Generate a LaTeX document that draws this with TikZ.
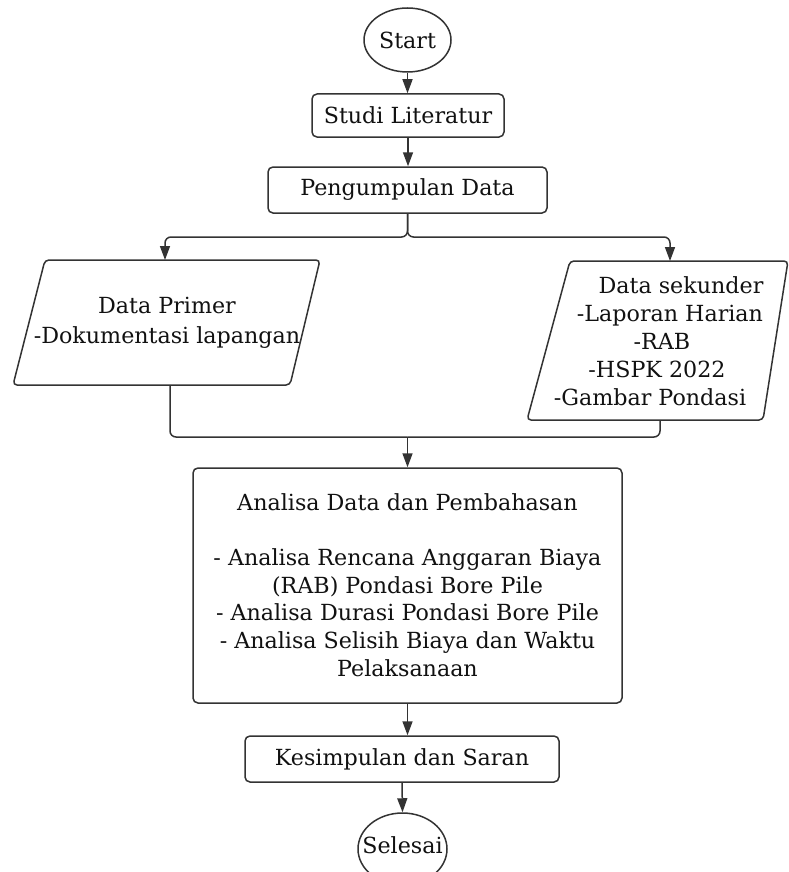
\documentclass[tikz,border=0pt]{standalone}
\usepackage{fontspec}
\setmainfont{DejaVu Serif}
\usetikzlibrary{arrows.meta,shapes.geometric}
\definecolor{ln}{HTML}{333333}
\definecolor{tx}{HTML}{111111}
\tikzset{
  line/.style={draw=ln, line width=1.5pt},
  arr/.style={line, -{Triangle[length=14pt,width=10pt]}},
  boxed/.style={line, rectangle, rounded corners=5pt, inner sep=0pt},
  oval/.style={line, ellipse, inner sep=0pt},
  txt/.style={text=tx, font=\fontsize{22.2}{27.7}\selectfont, align=center, inner sep=0pt},
}
\begin{document}
\begin{tikzpicture}[x=1pt,y=-1pt]
\useasboundingbox (0,0) rectangle (789,872);
\fill[white] (0,0) rectangle (789,872);
\clip (0,0) rectangle (789,872);

% start / studi / pengumpulan
\node[oval, minimum width=87pt, minimum height=64pt] (start) at (407.5,40) {};
\node[txt] at (start) {Start};
\node[boxed, minimum width=192pt, minimum height=43pt] (studi) at (408,115.5) {};
\node[txt] at (studi) {Studi Literatur};
\node[boxed, minimum width=279pt, minimum height=46pt] (peng) at (407.5,190) {};
\node[txt] at (peng) {Pengumpulan Data};

% parallelograms
\draw[line, rounded corners=4pt] (45,260) -- (320,260) -- (290,385) -- (13,385) -- cycle;
\coordinate (p1top) at (165,260);
\coordinate (p1bot) at (170,385);
\node[txt, font=\fontsize{22.2}{29.5}\selectfont] (prim) at (167,323) {Data Primer\\-Dokumentasi lapangan};

\draw[line, rounded corners=4pt] (570,261) -- (788,261) -- (763,420) -- (527,420) -- cycle;
\coordinate (p2top) at (670,261);
\coordinate (p2bot) at (660,420);
\node[txt, font=\fontsize{22.2}{28}\selectfont] (sek) at (664,341) {\hspace*{34pt}Data sekunder\\\hspace*{12pt}-Laporan Harian\\-RAB\kern4pt\\-HSPK 2022\kern14pt\\-Gambar Pondasi\kern28pt};

% analisa
\node[boxed, minimum width=429pt, minimum height=235pt] (ana) at (407.5,585.5) {};
\node[txt] at (407.5,585) {Analisa Data dan Pembahasan\\[27.7pt]- Analisa Rencana Anggaran Biaya\\(RAB) Pondasi Bore Pile\\- Analisa Durasi Pondasi Bore Pile\\- Analisa Selisih Biaya dan Waktu\\Pelaksanaan};

% kesimpulan / selesai
\node[boxed, minimum width=314pt, minimum height=46pt] (kes) at (402,759) {};
\node[txt] at (kes) {Kesimpulan dan Saran};
\node[oval, minimum width=89pt, minimum height=72pt] (sel) at (402.5,849) {};
\node[txt] at (402.5,845) {Selesai};

% connectors
\draw[arr] (start.south) -- (start.south |- studi.north);
\draw[arr] (studi.south) -- (studi.south |- peng.north);
\coordinate (split) at (407.5,237);
\draw[arr, rounded corners=6pt] (peng.south) -- (split) -| (p1top);
\draw[arr, rounded corners=6pt] (peng.south) -- (split) -| (p2top);
\coordinate (merge) at (407.5,437);
\draw[line, rounded corners=6pt] (p1bot) |- (merge);
\draw[line, rounded corners=6pt] (p2bot) |- (merge);
\draw[arr] (merge) -- (ana.north);
\draw[arr] (ana.south) -- (ana.south |- kes.north);
\draw[arr] (kes.south) -- (sel.north);
\end{tikzpicture}
\end{document}
